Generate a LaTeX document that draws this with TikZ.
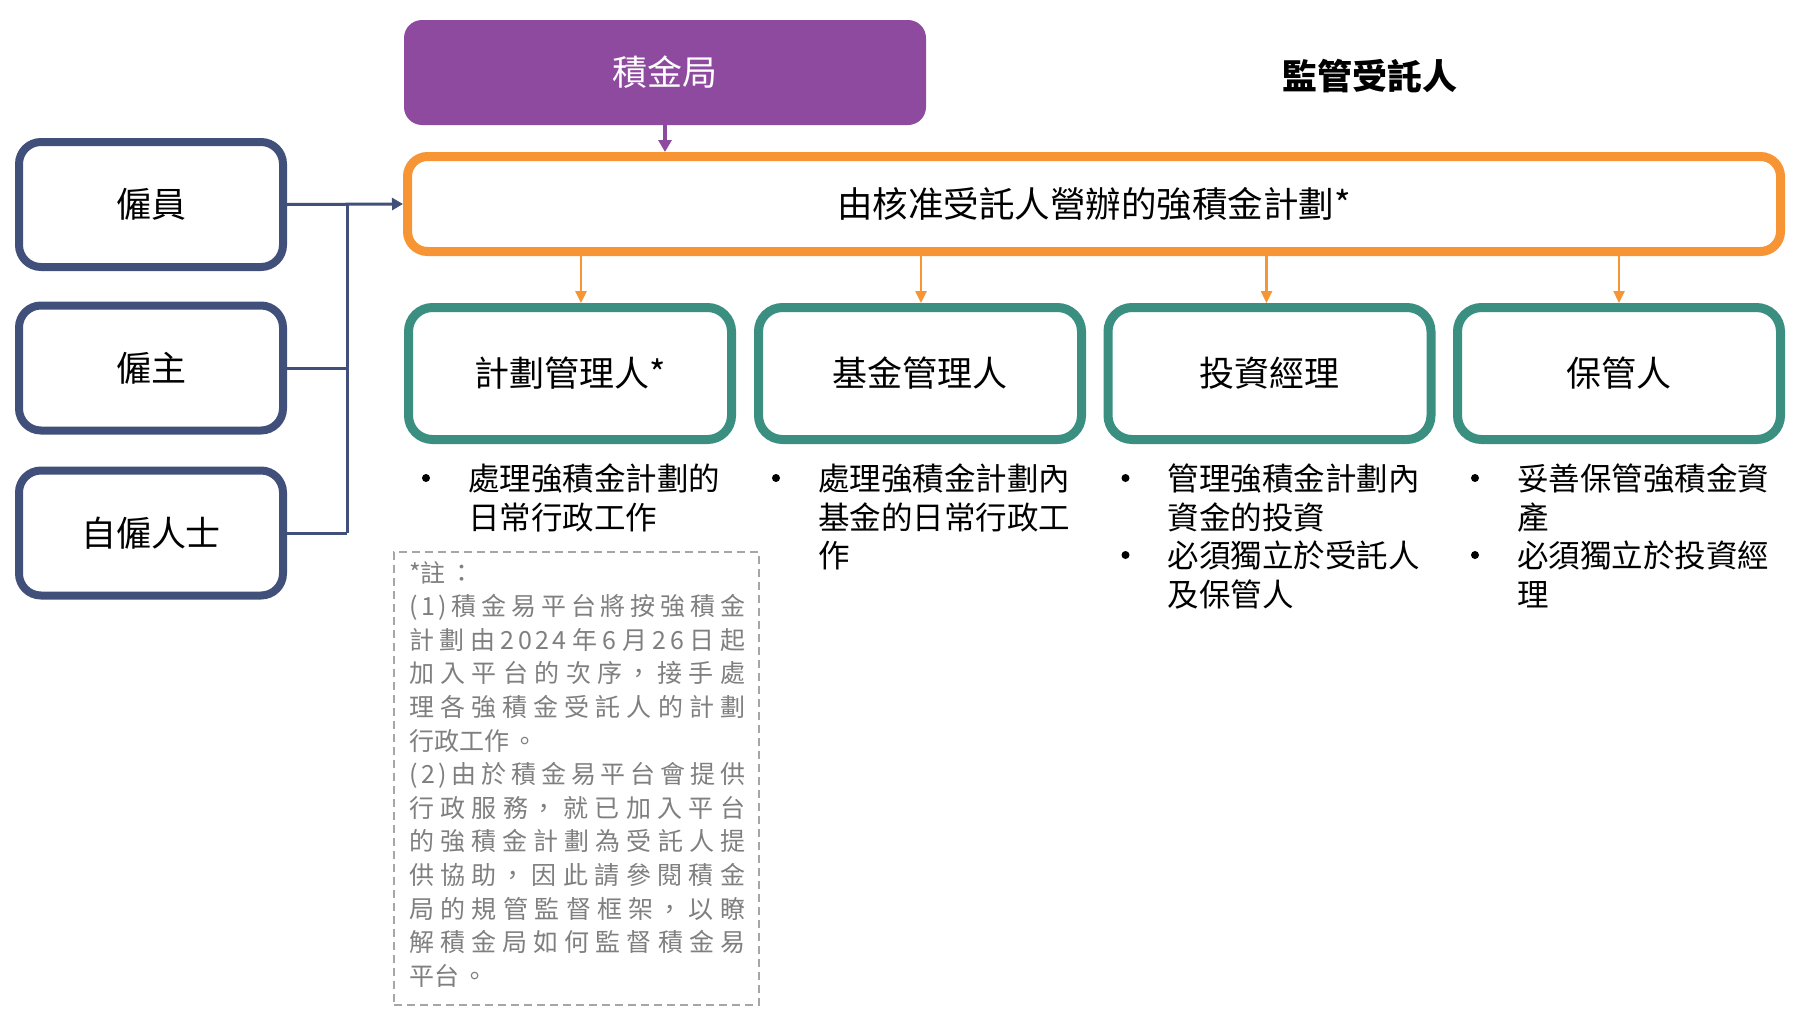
\documentclass[tikz,border=0pt]{standalone}
\usepackage{fontspec}
\setmainfont{Noto Sans CJK TC}
\newfontfamily\notefont[LetterSpace=14]{Noto Sans CJK TC}
\usepackage{xcolor}
\usetikzlibrary{calc}
\usetikzlibrary{arrows.meta}
\definecolor{mpfapurple}{HTML}{8E4A9F}
\definecolor{planorange}{HTML}{F79433}
\definecolor{partynavy}{HTML}{41507A}
\definecolor{agentteal}{HTML}{3A8F80}
\definecolor{notegray}{HTML}{7F7F7F}
\definecolor{dashgray}{HTML}{A6A6A6}
\newcommand{\notesetup}{\notefont\fontsize{25}{33.6}\selectfont\parindent=0pt
  \XeTeXlinebreaklocale "zh"\XeTeXlinebreakskip=0pt plus 12pt\relax}
\tikzset{
  boxfont/.style={font=\fontsize{35}{42}\selectfont},
  regbox/.style={boxfont,fill=mpfapurple,text=white,rounded corners=18pt,
    minimum width=522pt,minimum height=105pt},
  headtext/.style={font=\fontsize{35}{42}\selectfont\bfseries},
  planbox/.style={font=\fontsize{35.5}{42}\selectfont,draw=planorange,line width=9pt,
    rounded corners=20pt,minimum width=1373pt,minimum height=95pt},
  partybox/.style={boxfont,draw=partynavy,line width=8pt,rounded corners=22pt,
    minimum width=264pt,minimum height=125pt},
  agentbox/.style={boxfont,draw=agentteal,line width=9pt,rounded corners=24pt,
    minimum width=323pt,minimum height=132pt},
  dutytext/.style={font=\fontsize{31.5}{38.5}\selectfont,align=left,
    anchor=north west,inner sep=0pt},
  dutydot/.style={circle,fill=black,inner sep=0pt,minimum size=8pt},
  notebox/.style={draw=dashgray,line width=2pt,dash pattern=on 8pt off 5pt,
    minimum width=365pt,minimum height=453pt},
  notetext/.style={font=\notesetup,text=notegray,text width=336pt,
    align=justify,anchor=north west,inner sep=0pt},
  regarrow/.style={mpfapurple,line width=3.5pt,-{Triangle[length=12pt,width=13pt]}},
  feedarrow/.style={partynavy,line width=3pt,-{Triangle[length=11pt,width=12pt]}},
  feedline/.style={partynavy,line width=3pt},
  planarrow/.style={planorange,line width=2.5pt,-{Triangle[length=12pt,width=11pt]}}
}
\begin{document}
\begin{tikzpicture}[x=1pt,y=-1pt]
\useasboundingbox (0,0) rectangle (1800,1020);
% regulator and trustee scheme
\node[regbox] (mpfa) at (665,72.5) {積金局};
\node[headtext] (sup) at (1370,76) {監管受託人};
\node[planbox] (plan) at (1094,204) {由核准受託人營辦的強積金計劃*};
\draw[regarrow] (mpfa.south) -- (mpfa.south |- plan.north);
% members
\node[partybox] (emp) at (151,204.5) {僱員};
\node[partybox] (boss) at (151,368) {僱主};
\node[partybox] (self) at (151,533) {自僱人士};
\coordinate (bus) at (347,204);
\draw[feedarrow] (emp.east) -- (plan.west);
\draw[feedline] (bus) -- (bus |- self.east);
\draw[feedline] (boss.east) -- (boss.east -| bus);
\draw[feedline] (self.east) -- (self.east -| bus);
% service providers
\node[agentbox] (m1) at (570,373.5) {計劃管理人*};
\node[agentbox] (m2) at (920,373.5) {基金管理人};
\node[agentbox] (m3) at (1269.5,373.5) {投資經理};
\node[agentbox] (m4) at (1619,373.5) {保管人};
\foreach \m/\dx in {m1/11,m2/1,m3/-3,m4/0}
  \draw[planarrow] ([xshift=\dx pt]plan.south -| \m) -- ([xshift=\dx pt]\m.north);
% duties
\node[dutytext] (d1) at ([shift={(64,20)}]m1.south west)
  {處理強積金計劃的\\日常行政工作};
\node[dutytext] (d2) at ([shift={(64,20)}]m2.south west)
  {處理強積金計劃內\\基金的日常行政工\\作};
\node[dutytext] (d3) at ([shift={(64,20)}]m3.south west)
  {管理強積金計劃內\\資金的投資\\必須獨立於受託人\\及保管人};
\node[dutytext] (d4) at ([shift={(64,20)}]m4.south west)
  {妥善保管強積金資\\產\\必須獨立於投資經\\理};
\foreach \m in {m1,m2,m3,m4}
  \node[dutydot] (\m dot) at ([shift={(22,34)}]\m.south west) {};
\foreach \m in {m3,m4}
  \node[dutydot] (\m dotb) at ([shift={(22,111)}]\m.south west) {};
% note
\node[notebox] (note) at (576.5,778.5) {};
\node[notetext] (notetxt) at ([shift={(16,10)}]note.north west)
  {*註：\par
  (1)積金易平台將按強積金\linebreak 計劃由2024年6月26日起\linebreak 加入平台的次序，接手處\linebreak 理各強積金受託人的計劃\linebreak 行政工作。\par
  (2)由於積金易平台會提供\linebreak 行政服務，就已加入平台\linebreak 的強積金計劃為受託人提\linebreak 供協助，因此請參閱積金\linebreak 局的規管監督框架，以瞭\linebreak 解積金局如何監督積金易\linebreak 平台。};
\end{tikzpicture}
\end{document}
